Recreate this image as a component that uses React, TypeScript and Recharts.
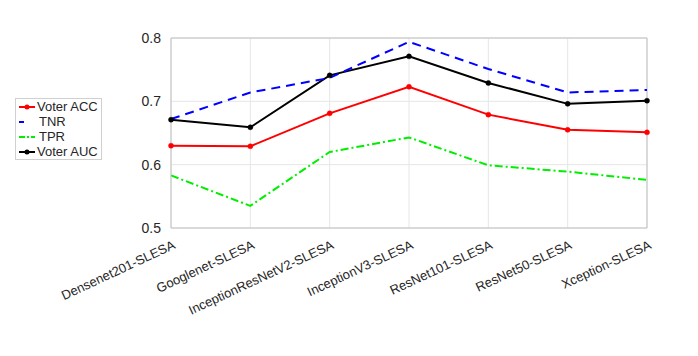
import { LineChart, Line, XAxis, YAxis, CartesianGrid, ReferenceLine } from 'recharts';

const models = [
  'Densenet201-SLESA',
  'Googlenet-SLESA',
  'InceptionResNetV2-SLESA',
  'InceptionV3-SLESA',
  'ResNet101-SLESA',
  'ResNet50-SLESA',
  'Xception-SLESA',
];
const voterAcc = [0.63, 0.629, 0.681, 0.723, 0.679, 0.655, 0.651];
const tnr = [0.672, 0.714, 0.737, 0.794, 0.751, 0.714, 0.718];
const tpr = [0.583, 0.535, 0.620, 0.643, 0.599, 0.589, 0.576];
const voterAuc = [0.671, 0.659, 0.741, 0.771, 0.729, 0.696, 0.701];
const yTicks = [0.5, 0.6, 0.7, 0.8];

const data = models.map((name, i) => ({
  name,
  acc: voterAcc[i],
  tnr: tnr[i],
  tpr: tpr[i],
  auc: voterAuc[i],
}));

const FONT = '"Liberation Sans", Arial, Helvetica, sans-serif';
const TEXT = '#262626';
const AXIS = '#c0c0c0';

const legendItems = [
  { label: 'Voter ACC', color: '#ff0000', dash: undefined, dot: true },
  { label: 'TNR', color: '#0000ff', dash: '5 20', dot: false },
  { label: 'TPR', color: '#00ee00', dash: '6 2 2 2', dot: false },
  { label: 'Voter AUC', color: '#000000', dash: undefined, dot: true },
];

function LegendBox() {
  return (
    <div
      style={{
        position: 'absolute',
        left: 15,
        top: 98,
        border: '1px solid #d0d0d0',
        background: '#fff',
        padding: '0px 3px 0px 1px',
        fontFamily: FONT,
        fontSize: 13,
        color: TEXT,
        lineHeight: '15px',
      }}
    >
      {legendItems.map((it) => (
        <div key={it.label} style={{ display: 'flex', alignItems: 'center' }}>
          <svg width={20} height={15}>
            <line x1={2} x2={18} y1={8} y2={8} stroke={it.color} strokeWidth={2} strokeDasharray={it.dash} />
            {it.dot && <circle cx={10} cy={8} r={2.5} fill={it.color} />}
          </svg>
          <span style={{ marginLeft: it.dot ? 0 : 2 }}>{it.label}</span>
        </div>
      ))}
    </div>
  );
}

function XTick(props: any) {
  const { x, y, payload } = props;
  return (
    <text
      transform={`translate(${x + 5},${y + 12}) rotate(-25)`}
      textAnchor="end"
      fontFamily={FONT}
      fontSize={13}
      fill={TEXT}
    >
      {payload.value}
    </text>
  );
}

export default function App() {
  return (
    <div style={{ position: 'absolute', left: 0, top: 0, width: 698, height: 356, background: '#fff' }}>
      <LineChart width={698} height={356} data={data} margin={{ top: 38, right: 51, left: 131, bottom: 0 }}>
        <CartesianGrid stroke="#e6e6e6" strokeWidth={1} />
        <XAxis
          dataKey="name"
          interval={0}
          height={128}
          tick={<XTick />}
          tickLine={false}
          axisLine={{ stroke: AXIS }}
        />
        <YAxis
          domain={[0.5, 0.8]}
          ticks={yTicks}
          width={40}
          tickLine={false}
          axisLine={{ stroke: AXIS }}
          tickFormatter={(v: number) => v.toFixed(1)}
          tick={{ fontFamily: FONT, fontSize: 14, fill: TEXT }}
          tickMargin={4}
        />
        <ReferenceLine y={0.8} stroke={AXIS} />
        <ReferenceLine x={models[models.length - 1]} stroke={AXIS} />
        <Line
          dataKey="tpr"
          name="TPR"
          stroke="#00ee00"
          strokeWidth={2}
          strokeDasharray="8 3 2 3"
          dot={false}
          isAnimationActive={false}
        />
        <Line
          dataKey="acc"
          name="Voter ACC"
          stroke="#ff0000"
          strokeWidth={2}
          dot={{ r: 2.5, fill: '#ff0000', stroke: '#ff0000', strokeWidth: 0.5 }}
          isAnimationActive={false}
        />
        <Line
          dataKey="auc"
          name="Voter AUC"
          stroke="#000000"
          strokeWidth={2}
          dot={{ r: 2.5, fill: '#000000', stroke: '#000000', strokeWidth: 0.5 }}
          isAnimationActive={false}
        />
        <Line
          dataKey="tnr"
          name="TNR"
          stroke="#0000ff"
          strokeWidth={2}
          strokeDasharray="9 6"
          dot={false}
          isAnimationActive={false}
        />
      </LineChart>
      <LegendBox />
    </div>
  );
}
